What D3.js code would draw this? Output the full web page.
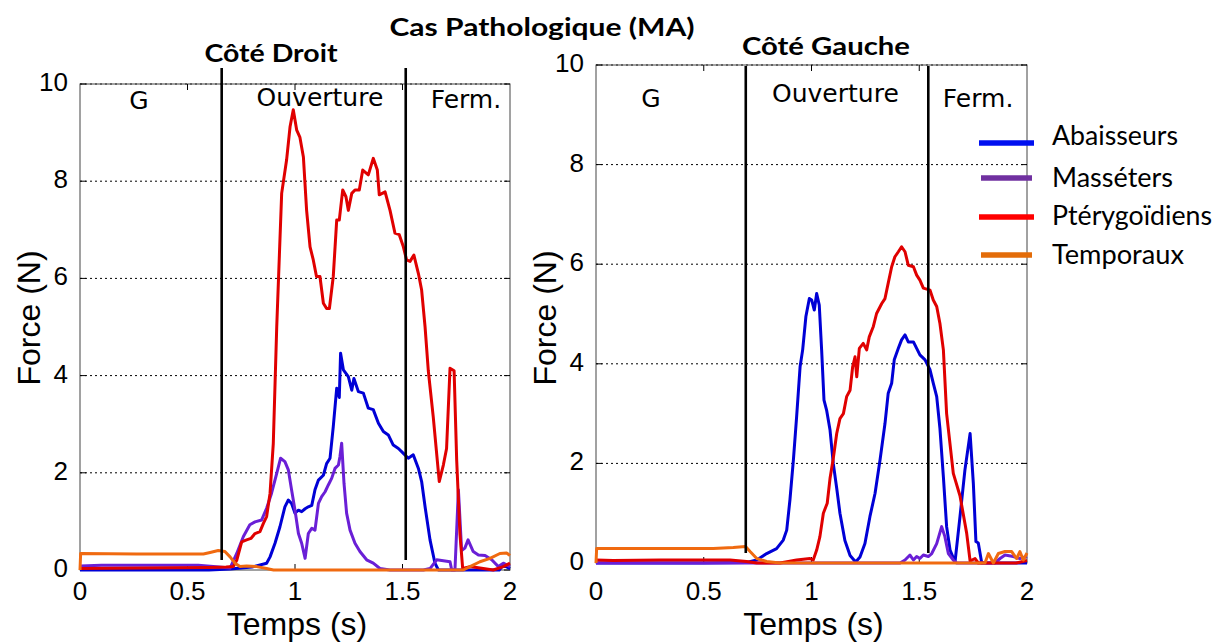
<!DOCTYPE html>
<html><head><meta charset="utf-8">
<script src="https://cdn.jsdelivr.net/npm/d3@7"></script>
<style>body{margin:0;background:#fff}</style>
</head><body><svg id="c" width="1216" height="643"></svg>
<script>
// ---------- data ----------
const seriesNames = ["Abaisseurs", "Masséters", "Ptérygoïdiens", "Temporaux"];
const yTicks = [0, 2, 4, 6, 8, 10];
const xTicks = [0, 0.5, 1, 1.5, 2];
const xTickLabels = ["0", "0.5", "1", "1.5", "2"];
const phaseLabels = ["G", "Ouverture", "Ferm."];
const mainTitle = "Cas Pathologique (MA)";
const panelTitles = ["Côté Droit", "Côté Gauche"];
const xLabel = "Temps (s)";
const yLabel = "Force (N)";

const leftPhaseBounds = [0.659, 1.515];
const rightPhaseBounds = [0.695, 1.542];
const leftPhaseCenters = [0.274, 1.116, 1.795];
const rightPhaseCenters = [0.255, 1.111, 1.773];

// Côté Droit [time (s), force (N)]
const leftAbaisseurs = [[0,0],[0.3,0],[0.6,0],[0.7,0.02],[0.8,0.06],[0.868,0.14],[0.884,0.27],[0.907,0.55],[0.93,0.89],[0.953,1.3],[0.969,1.44],[0.984,1.37],[1.0,1.17],[1.016,1.23],[1.031,1.2],[1.047,1.26],[1.062,1.3],[1.078,1.33],[1.093,1.65],[1.109,1.85],[1.132,1.95],[1.147,2.19],[1.163,2.3],[1.178,2.95],[1.194,3.74],[1.206,3.55],[1.212,4.46],[1.225,4.12],[1.248,3.98],[1.264,3.7],[1.274,3.94],[1.295,3.67],[1.318,3.64],[1.341,3.33],[1.364,3.3],[1.388,3.02],[1.411,2.85],[1.434,2.78],[1.457,2.57],[1.481,2.5],[1.504,2.4],[1.527,2.3],[1.55,2.37],[1.574,2.09],[1.589,1.82],[1.605,1.3],[1.628,0.62],[1.651,0.14],[1.667,0],[1.8,0],[1.95,0],[1.969,0.1],[2.0,0.03]];
const leftMasseters = [[0,0.08],[0.1,0.1],[0.3,0.1],[0.55,0.1],[0.62,0.07],[0.698,0.04],[0.729,0.34],[0.76,0.69],[0.79,0.93],[0.814,0.99],[0.845,1.03],[0.868,1.27],[0.891,1.58],[0.915,1.99],[0.933,2.3],[0.953,2.23],[0.969,2.06],[0.984,1.65],[1.0,1.23],[1.016,0.75],[1.031,0.55],[1.047,0.24],[1.062,0.75],[1.078,0.86],[1.093,0.82],[1.109,1.37],[1.124,1.51],[1.14,1.61],[1.155,1.75],[1.171,1.89],[1.186,2.09],[1.202,2.16],[1.209,2.33],[1.217,2.61],[1.228,1.78],[1.24,1.17],[1.256,0.82],[1.279,0.55],[1.302,0.38],[1.333,0.21],[1.364,0.14],[1.395,0.03],[1.442,0],[1.597,0],[1.628,0.03],[1.659,0.21],[1.721,0.17],[1.729,0],[1.744,0],[1.76,1.65],[1.775,0.4],[1.79,0.45],[1.805,0.62],[1.829,0.38],[1.853,0.31],[1.884,0.3],[1.915,0.21],[1.946,0.07],[1.969,0.14],[2.0,0.07]];
const leftPterygoidiens = [[0,0.03],[0.3,0.04],[0.6,0.05],[0.68,0.06],[0.713,0.07],[0.729,0.2],[0.752,0.58],[0.775,0.62],[0.795,0.65],[0.814,0.75],[0.837,0.79],[0.853,0.96],[0.868,1.1],[0.884,1.58],[0.899,2.6],[0.915,5.0],[0.938,7.75],[0.961,8.44],[0.977,9.12],[0.992,9.47],[1.008,9.05],[1.023,8.9],[1.039,8.5],[1.054,7.4],[1.07,6.65],[1.085,6.38],[1.1,6.04],[1.116,6.04],[1.132,5.49],[1.147,5.38],[1.16,5.38],[1.178,6.04],[1.194,7.2],[1.206,7.2],[1.222,7.82],[1.237,7.68],[1.248,7.4],[1.264,7.75],[1.279,7.82],[1.299,7.82],[1.315,8.23],[1.341,8.13],[1.364,8.47],[1.383,8.23],[1.392,7.72],[1.419,7.78],[1.442,7.4],[1.465,6.93],[1.485,6.9],[1.504,6.65],[1.519,6.38],[1.535,6.35],[1.553,6.48],[1.574,6.1],[1.589,5.76],[1.605,5.0],[1.62,4.1],[1.643,3.15],[1.671,1.82],[1.69,2.16],[1.705,2.5],[1.721,4.15],[1.74,4.1],[1.752,2.26],[1.767,0.75],[1.78,0.03],[1.814,0.07],[1.86,0.04],[1.922,0],[1.969,0.07],[2.0,0.14]];
const leftTemporaux = [[0,0],[0.003,0.34],[0.264,0.33],[0.574,0.33],[0.605,0.36],[0.643,0.4],[0.674,0.38],[0.698,0.27],[0.721,0.14],[0.744,0.07],[0.775,0.08],[0.822,0.07],[0.868,0.03],[0.9,0],[1.783,0],[1.814,0.07],[1.86,0.17],[1.907,0.24],[1.953,0.34],[1.984,0.35],[2.0,0.3]];

// Côté Gauche [time (s), force (N)]
const rightAbaisseurs = [[0,0],[0.5,0],[0.699,0.01],[0.746,0.06],[0.792,0.19],[0.838,0.29],[0.869,0.46],[0.885,0.66],[0.9,1.27],[0.916,2.07],[0.931,2.94],[0.947,3.94],[0.959,4.28],[0.974,4.95],[0.99,5.31],[1.001,5.28],[1.013,5.08],[1.024,5.41],[1.036,5.18],[1.047,4.28],[1.058,3.27],[1.07,3.07],[1.086,2.67],[1.101,2.0],[1.117,1.5],[1.132,1.0],[1.155,0.45],[1.179,0.15],[1.205,0.02],[1.225,0.12],[1.248,0.39],[1.271,0.93],[1.295,1.4],[1.318,2.07],[1.341,2.8],[1.356,3.41],[1.372,3.61],[1.384,4.08],[1.403,4.31],[1.418,4.48],[1.434,4.58],[1.449,4.44],[1.473,4.44],[1.488,4.31],[1.503,4.18],[1.527,4.08],[1.55,3.88],[1.565,3.61],[1.581,3.34],[1.596,2.7],[1.612,1.73],[1.627,0.73],[1.643,0.26],[1.666,0.02],[1.689,0.93],[1.712,1.87],[1.736,2.6],[1.751,1.6],[1.763,0.43],[1.774,0.4],[1.79,0],[2.0,0]];
const rightMasseters = [[0,0],[1.411,0],[1.434,0.06],[1.457,0.16],[1.473,0.06],[1.488,0.13],[1.503,0.09],[1.519,0.16],[1.542,0.13],[1.558,0.19],[1.581,0.39],[1.604,0.73],[1.619,0.53],[1.635,0.19],[1.658,0.06],[1.674,0],[1.85,0],[1.875,0.09],[1.898,0.16],[1.936,0.13],[1.967,0.09],[2.0,0.13]];
const rightPterygoidiens = [[0,0.06],[0.08,0.05],[0.3,0.06],[0.544,0.06],[0.622,0.06],[0.699,0.03],[0.746,0],[0.854,0],[0.931,0.06],[0.993,0.09],[1.008,0.06],[1.024,0.26],[1.039,0.53],[1.055,1.0],[1.073,1.2],[1.086,1.7],[1.101,2.1],[1.117,2.6],[1.132,2.9],[1.148,3.0],[1.163,3.34],[1.179,3.47],[1.191,3.94],[1.202,4.14],[1.21,3.74],[1.222,4.31],[1.24,4.41],[1.256,4.28],[1.268,4.54],[1.287,4.75],[1.302,5.01],[1.326,5.21],[1.341,5.31],[1.356,5.62],[1.372,5.95],[1.387,6.15],[1.403,6.25],[1.418,6.35],[1.434,6.25],[1.449,5.98],[1.473,5.95],[1.488,5.78],[1.503,5.68],[1.519,5.52],[1.55,5.48],[1.565,5.28],[1.581,5.15],[1.596,4.81],[1.612,4.28],[1.627,3.0],[1.658,1.8],[1.689,1.35],[1.72,0.6],[1.736,0.04],[1.759,0.09],[1.774,0],[1.95,0],[2.0,0.05]];
const rightTemporaux = [[0,0],[0.003,0.29],[0.235,0.29],[0.544,0.29],[0.637,0.31],[0.694,0.33],[0.715,0.23],[0.746,0.09],[0.792,0.03],[0.854,0],[1.805,0],[1.821,0.19],[1.844,0],[1.867,0.19],[1.898,0.23],[1.929,0.23],[1.952,0.09],[1.967,0.23],[1.983,0.06],[2.0,0.2]];

// ---------- styles / layout ----------
const lineColors = ["#0000d6", "#6a1fd6", "#e00000", "#f06a10"];
const legendColors = ["#0010f0", "#7030a0", "#ff0000", "#e36c09"];
const calibriLike = "Lato, 'Open Sans', sans-serif";
const arialLike = "'Liberation Sans', Arial, sans-serif";

const panels = [
  {x0: 80, x1: 510, yTop: 84, yBot: 570, series: [leftAbaisseurs, leftMasseters, leftPterygoidiens, leftTemporaux],
   bounds: leftPhaseBounds, centers: leftPhaseCenters, phaseY: [109, 106, 108], boundTop: 68, boundBot: 560,
   title: panelTitles[0], titleX: 271, titleY: 62, titleW: 133, ylabX: 40, ylabY: 318},
  {x0: 596, x1: 1027, yTop: 65, yBot: 563, series: [rightAbaisseurs, rightMasseters, rightPterygoidiens, rightTemporaux],
   bounds: rightPhaseBounds, centers: rightPhaseCenters, phaseY: [107, 102, 107], boundTop: 66, boundBot: 553,
   title: panelTitles[1], titleX: 826, titleY: 55, titleW: 168, ylabX: 556, ylabY: 318}
];

const svg = d3.select("#c");

svg.append("text").attr("x", 542).attr("y", 36).attr("text-anchor", "middle")
  .attr("font-family", calibriLike).attr("font-weight", "bold").attr("font-size", 25)
  .attr("textLength", 305).attr("lengthAdjust", "spacingAndGlyphs").text(mainTitle);

panels.forEach(p => {
  const x = d3.scaleLinear().domain([0, 2]).range([p.x0, p.x1]);
  const y = d3.scaleLinear().domain([0, 10]).range([p.yBot, p.yTop]);
  const g = svg.append("g");

  // grid (dotted)
  g.selectAll("line.grid").data(yTicks.filter(d => d > 0)).enter().append("line")
    .attr("x1", p.x0).attr("x2", p.x1).attr("y1", d => y(d)).attr("y2", d => y(d))
    .attr("stroke", "#000").attr("stroke-width", 1).attr("stroke-dasharray", "2,3");

  // frame
  g.append("rect").attr("x", p.x0).attr("y", p.yTop).attr("width", p.x1 - p.x0).attr("height", p.yBot - p.yTop)
    .attr("fill", "none").attr("stroke", "#444").attr("stroke-width", 1);

  // ticks
  const inner = xTicks.filter(d => d > 0 && d < 2);
  g.selectAll("line.tb").data(inner).enter().append("line")
    .attr("x1", d => x(d)).attr("x2", d => x(d)).attr("y1", p.yBot).attr("y2", p.yBot - 6)
    .attr("stroke", "#000").attr("stroke-width", 1);
  g.selectAll("line.tt").data(inner).enter().append("line")
    .attr("x1", d => x(d)).attr("x2", d => x(d)).attr("y1", p.yTop).attr("y2", p.yTop + 6)
    .attr("stroke", "#000").attr("stroke-width", 1);
  g.selectAll("line.tr").data(yTicks).enter().append("line")
    .attr("x1", p.x1).attr("x2", p.x1 - 6).attr("y1", d => y(d)).attr("y2", d => y(d))
    .attr("stroke", "#000").attr("stroke-width", 1);
  g.selectAll("line.tl").data(yTicks).enter().append("line")
    .attr("x1", p.x0).attr("x2", p.x0 + 6).attr("y1", d => y(d)).attr("y2", d => y(d))
    .attr("stroke", "#000").attr("stroke-width", 1);

  // tick labels
  g.selectAll("text.yt").data(yTicks).enter().append("text")
    .attr("x", p.x0 - 12).attr("y", d => y(d) + 7).attr("text-anchor", "end")
    .attr("font-family", arialLike).attr("font-size", 26).text(d => d);
  g.selectAll("text.xt").data(xTicks).enter().append("text")
    .attr("x", d => x(d)).attr("y", 600).attr("text-anchor", "middle")
    .attr("font-family", arialLike).attr("font-size", 26).text((d, i) => xTickLabels[i]);

  // axis labels
  g.append("text").attr("x", (p.x0 + p.x1) / 2 + 2).attr("y", 635).attr("text-anchor", "middle")
    .attr("font-family", arialLike).attr("font-size", 32).text(xLabel);
  g.append("text").attr("transform", `translate(${p.ylabX},${p.ylabY}) rotate(-90)`).attr("text-anchor", "middle")
    .attr("font-family", arialLike).attr("font-size", 32).text(yLabel);

  // series
  const line = d3.line().x(d => x(d[0])).y(d => y(d[1]));
  p.series.forEach((s, i) => {
    g.append("path").datum(s).attr("d", line).attr("fill", "none")
      .attr("stroke", lineColors[i]).attr("stroke-width", 3).attr("stroke-linejoin", "round");
  });

  // phase boundaries
  g.selectAll("line.pb").data(p.bounds).enter().append("line")
    .attr("x1", d => x(d)).attr("x2", d => x(d)).attr("y1", p.boundTop).attr("y2", p.boundBot)
    .attr("stroke", "#000").attr("stroke-width", 2.6);

  // phase labels
  g.selectAll("text.ph").data(phaseLabels).enter().append("text")
    .attr("x", (d, i) => x(p.centers[i])).attr("y", (d, i) => p.phaseY[i]).attr("text-anchor", "middle")
    .attr("font-family", "'DejaVu Sans', sans-serif").attr("font-size", 25).text(d => d);

  // panel title
  svg.append("text").attr("x", p.titleX).attr("y", p.titleY).attr("text-anchor", "middle")
    .attr("font-family", calibriLike).attr("font-weight", "bold").attr("font-size", 24)
    .attr("textLength", p.titleW).attr("lengthAdjust", "spacingAndGlyphs").text(p.title);
});

// legend
const legY = [143, 178, 217, 255];
const legTextY = [145, 187, 225, 264];
const legW = [126, 121, 160, 132];
const lg = svg.append("g");
seriesNames.forEach((n, i) => {
  lg.append("line").attr("x1", i % 2 ? 981 : 979).attr("x2", i % 2 ? 1032 : 1034)
    .attr("y1", legY[i]).attr("y2", legY[i]).attr("stroke", legendColors[i]).attr("stroke-width", 5.5);
  lg.append("text").attr("x", 1052).attr("y", legTextY[i]).attr("font-family", calibriLike)
    .attr("font-size", 26).attr("textLength", legW[i]).attr("lengthAdjust", "spacingAndGlyphs").text(n);
});
</script></body></html>
